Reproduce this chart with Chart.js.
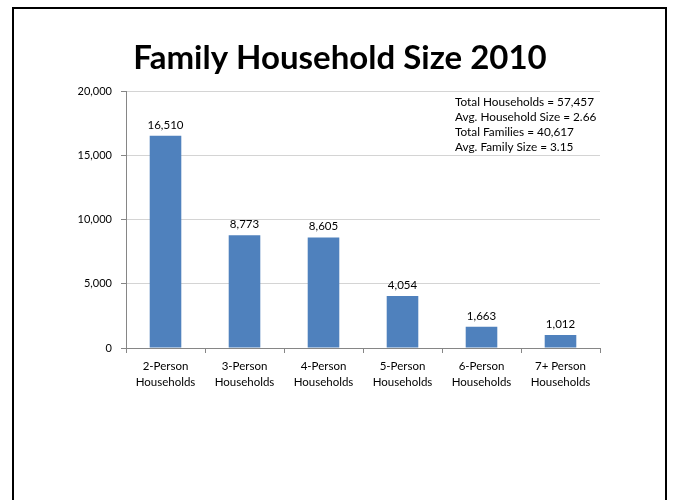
<!DOCTYPE html>
<html>
<head>
<meta charset="utf-8">
<script src="https://cdn.jsdelivr.net/npm/chart.js@4"></script>
<style>
  body { margin: 0; background: #fff; }
  #frame { position: absolute; left: 12px; top: 7px; width: 651px; height: 600px; border: 2px solid #000; }
  #householdChart { position: absolute; left: 0; top: 0; }
</style>
</head>
<body>
<div id="frame"></div>
<canvas id="householdChart" width="673" height="500"></canvas>
<script>
const categories = [
    ['2-Person', 'Households'],
    ['3-Person', 'Households'],
    ['4-Person', 'Households'],
    ['5-Person', 'Households'],
    ['6-Person', 'Households'],
    ['7+ Person', 'Households']
];
const households = [16510, 8773, 8605, 4054, 1663, 1012];
const summaryLines = [
    'Total Households = 57,457',
    'Avg. Household Size = 2.66',
    'Total Families = 40,617',
    'Avg. Family Size = 3.15'
];
const chartTitle = 'Family Household Size 2010';

const FONT = 'Lato, "Noto Sans", sans-serif';

// title, summary box and value labels over each bar
const extras = {
    id: 'extras',
    afterDatasetsDraw(chart) {
        const ctx = chart.ctx;
        ctx.save();
        ctx.fillStyle = '#000';
        ctx.textAlign = 'center';
        ctx.textBaseline = 'alphabetic';
        ctx.font = 'bold 33px ' + FONT;
        ctx.fillText(chartTitle, 340, 69);

        ctx.font = '11.5px ' + FONT;
        ctx.textBaseline = 'bottom';
        const meta = chart.getDatasetMeta(0);
        meta.data.forEach((bar, i) => {
            ctx.fillText(households[i].toLocaleString('en-US'), bar.x, bar.y - 5);
        });

        ctx.font = '11.8px ' + FONT;
        ctx.textAlign = 'left';
        ctx.textBaseline = 'middle';
        summaryLines.forEach((line, i) => {
            ctx.fillText(line, 455, 102 + i * 15);
        });
        ctx.restore();
    }
};

new Chart(document.getElementById('householdChart'), {
    type: 'bar',
    data: {
        labels: categories,
        datasets: [{
            data: households,
            backgroundColor: '#4F81BD',
            categoryPercentage: 1,
            barPercentage: 0.4
        }]
    },
    options: {
        responsive: false,
        animation: false,
        layout: { padding: { left: 0, right: 73, top: 91, bottom: 112 } },
        plugins: {
            legend: { display: false },
            tooltip: { enabled: false }
        },
        scales: {
            x: {
                afterFit(scale) { scale.height = 40; },
                grid: { drawOnChartArea: false, drawTicks: true, tickLength: 5, tickColor: '#868686' },
                border: { color: '#868686' },
                ticks: { color: '#000', font: { family: FONT, size: 11.5, lineHeight: 1.4 }, padding: 5, maxRotation: 0 }
            },
            y: {
                min: 0,
                max: 20000,
                afterFit(scale) { scale.width = 126; },
                grid: { color: '#d4d4d4', tickLength: 5, tickColor: '#868686' },
                border: { color: '#868686' },
                ticks: {
                    stepSize: 5000,
                    color: '#000',
                    padding: 9,
                    font: { family: FONT, size: 11 },
                    callback: v => v.toLocaleString('en-US')
                }
            }
        }
    },
    plugins: [extras]
});
</script>
</body>
</html>
